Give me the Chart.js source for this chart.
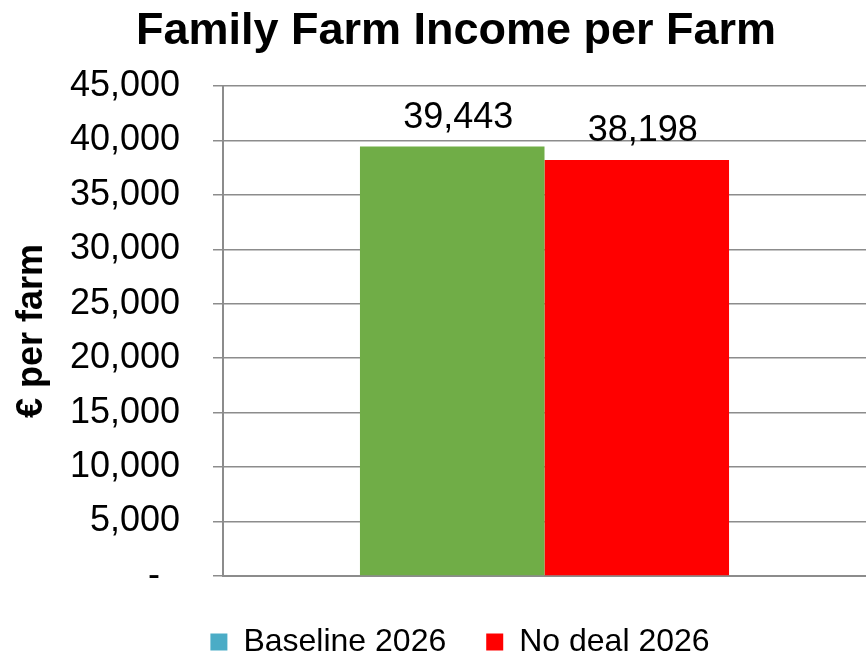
<!DOCTYPE html>
<html>
<head>
<meta charset="utf-8">
<title>Family Farm Income per Farm</title>
<script src="https://cdn.jsdelivr.net/npm/chart.js@4"></script>
<style>
  html, body { margin: 0; padding: 0; background: #fff; }
  #wrap { width: 866px; height: 657px; position: relative; }
</style>
</head>
<body>
<div id="wrap"><canvas id="chart"></canvas></div>
<script>
const categories = [""]
const seriesNames = ["Baseline 2026", "No deal 2026"]
const baselineValues = [39443]
const noDealValues = [38198]
const yTicks = [0, 5000, 10000, 15000, 20000, 25000, 30000, 35000, 40000, 45000]

const FONT = "'Liberation Sans', Arial, sans-serif"
const GREY = "#8c8c8c"
const barColors = ["#70ad47", "#ff0000"]
const legendColors = ["#4bacc6", "#ff0000"]

function formatValue(v) {
	return v.toLocaleString("en-US")
}

// write each bar's value just above it
const valueLabels = {
	id: "valueLabels",
	afterDatasetsDraw(chart) {
		const ctx = chart.ctx
		ctx.save()
		ctx.font = "36px " + FONT
		ctx.fillStyle = "#000"
		ctx.textAlign = "center"
		ctx.textBaseline = "alphabetic"
		chart.data.datasets.forEach((ds, i) => {
			chart.getDatasetMeta(i).data.forEach((bar, j) => {
				ctx.fillText(formatValue(ds.data[j]), bar.x + 6, bar.y - 19)
			})
		})
		ctx.restore()
	},
}

// nudge title and legend a little right of the canvas centre
const shiftBlocks = {
	id: "shiftBlocks",
	afterLayout(chart) {
		chart.titleBlock.left += 46
		chart.legend.left += 54
	},
}

new Chart(document.getElementById("chart"), {
	type: "bar",
	data: {
		labels: categories,
		datasets: [
			{ label: seriesNames[0], data: baselineValues, backgroundColor: barColors[0] },
			{ label: seriesNames[1], data: noDealValues, backgroundColor: barColors[1] },
		],
	},
	options: {
		responsive: true,
		maintainAspectRatio: false,
		animation: false,
		categoryPercentage: 0.574,
		barPercentage: 1,
		layout: { padding: { top: 4, right: 0, bottom: -11, left: 0 } },
		plugins: {
			title: {
				display: true,
				text: "Family Farm Income per Farm",
				color: "#000",
				font: { family: FONT, size: 45, weight: "bold" },
				padding: { top: 1, bottom: 27 },
			},
			legend: {
				position: "bottom",
				labels: {
					color: "#000",
					font: { family: FONT, size: 32 },
					boxWidth: 17,
					boxHeight: 17,
					padding: 40,
					generateLabels(chart) {
						return chart.data.datasets.map((ds, i) => ({
							text: ds.label,
							fillStyle: legendColors[i],
							strokeStyle: legendColors[i],
							lineWidth: 0,
							datasetIndex: i,
							fontColor: "#000",
						}))
					},
				},
			},
			tooltip: { enabled: false },
		},
		scales: {
			x: {
				grid: { display: false },
				border: { display: true, color: GREY, width: 2 },
				ticks: { display: false },
				afterFit(scale) { scale.height = 10 },
			},
			y: {
				min: 0,
				max: 45000,
				afterBuildTicks(scale) { scale.ticks = yTicks.map((v) => ({ value: v })) },
				grid: { color: GREY, lineWidth: 1.5, tickLength: 10, drawTicks: true },
				border: { display: true, color: GREY, width: 2 },
				ticks: {
					color: "#000",
					font: { family: FONT, size: 36 },
					padding: 33,
					callback: (v) => (v === 0 ? "-  " : formatValue(v)),
				},
				title: {
					display: true,
					text: "€ per farm",
					color: "#000",
					font: { family: FONT, size: 36, weight: "bold" },
					padding: { top: 10, bottom: 0 },
				},
				afterFit(scale) { scale.width = 223 },
			},
		},
	},
	plugins: [valueLabels, shiftBlocks],
})
</script>
</body>
</html>
